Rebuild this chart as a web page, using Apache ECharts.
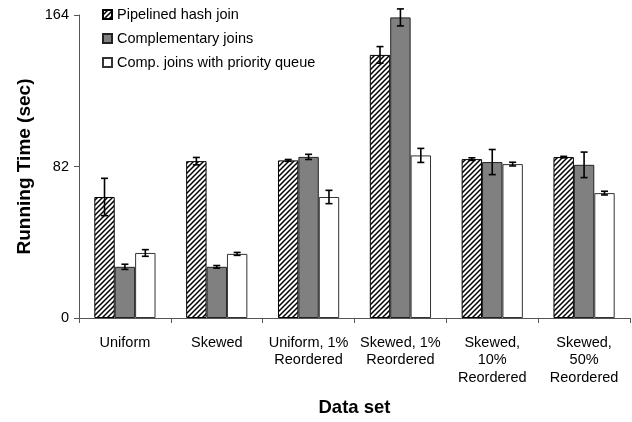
<!DOCTYPE html>
<html>
<head>
<meta charset="utf-8">
<script src="https://cdn.jsdelivr.net/npm/echarts@6/dist/echarts.min.js"></script>
<style>html,body{margin:0;padding:0;background:#fff}#c{width:632px;height:422px}</style>
</head>
<body>
<div id="c"></div>
<script>
const categories = ['Uniform', 'Skewed', 'Uniform, 1%\nReordered', 'Skewed, 1%\nReordered', 'Skewed,\n10%\nReordered', 'Skewed,\n50%\nReordered'];
const seriesNames = ['Pipelined hash join', 'Complementary joins', 'Comp. joins with priority queue'];
const pipelined = [65.5, 84.9, 85.3, 142.4, 86.0, 87.1];
const pipelinedErr = [10.1, 2.0, 0.5, 4.5, 0.7, 0.4];
const complementary = [27.7, 27.7, 87.2, 162.7, 84.4, 82.9];
const complementaryErr = [1.4, 0.7, 1.4, 4.6, 6.8, 6.9];
const priority = [35.2, 34.7, 65.5, 88.0, 83.3, 67.6];
const priorityErr = [1.8, 0.8, 3.6, 3.8, 1.0, 1.0];
const yTicks = [0, 82, 164];

const BAR_W = 20.4;

function hatch() {
  const s = 5;
  const c = document.createElement('canvas');
  c.width = s; c.height = s;
  const g = c.getContext('2d');
  g.fillStyle = '#fff'; g.fillRect(0, 0, s, s);
  g.strokeStyle = '#000'; g.lineWidth = 1.5;
  g.beginPath();
  g.moveTo(-1, s + 1); g.lineTo(s + 1, -1);
  g.moveTo(-1, 1); g.lineTo(1, -1);
  g.moveTo(s - 1, s + 1); g.lineTo(s + 1, s - 1);
  g.stroke();
  return c;
}
const hatchPattern = { image: hatch(), repeat: 'repeat' };

function errSeries(vals, errs, idx) {
  return {
    type: 'custom',
    z: 10,
    silent: true,
    data: vals.map((v, i) => [i, v, errs[i]]),
    renderItem: function (params, api) {
      const i = api.value(0), v = api.value(1), e = api.value(2);
      const off = (idx - 1) * BAR_W;
      const hi = api.coord([i, v + e]);
      const lo = api.coord([i, v - e]);
      const x = hi[0] + off;
      const cap = 3.5;
      const st = { stroke: '#000', lineWidth: 1.6 };
      return {
        type: 'group',
        children: [
          { type: 'line', shape: { x1: x, y1: hi[1], x2: x, y2: lo[1] }, style: st },
          { type: 'line', shape: { x1: x - cap, y1: hi[1], x2: x + cap, y2: hi[1] }, style: st },
          { type: 'line', shape: { x1: x - cap, y1: lo[1], x2: x + cap, y2: lo[1] }, style: st }
        ]
      };
    }
  };
}

const chart = echarts.init(document.getElementById('c'), null, { renderer: 'canvas' });
const font = '"Liberation Sans", Arial, sans-serif';
chart.setOption({
  animation: false,
  textStyle: { fontFamily: font },
  grid: { left: 79, right: 2, top: 15, bottom: 103.5, containLabel: false },
  legend: {
    orient: 'vertical',
    left: 97,
    top: 2,
    itemWidth: 9,
    itemHeight: 9,
    itemGap: 9,
    icon: 'rect',
    data: seriesNames,
    textStyle: { fontFamily: font, fontSize: 14.5, color: '#000', padding: [0, 0, 0, 0] }
  },
  xAxis: {
    type: 'category',
    data: categories,
    axisLine: { lineStyle: { color: '#555', width: 1 } },
    axisTick: { show: true, length: 5, interval: 0, lineStyle: { color: '#555' } },
    axisLabel: { interval: 0, fontSize: 14.5, color: '#000', lineHeight: 17.5, margin: 16, fontFamily: font },
    name: 'Data set',
    nameLocation: 'middle',
    nameGap: 80,
    nameTextStyle: { fontSize: 18.5, fontWeight: 'bold', color: '#000', fontFamily: font }
  },
  yAxis: {
    type: 'value',
    min: 0,
    max: 164,
    interval: 82,
    axisLine: { show: true, lineStyle: { color: '#555', width: 1 } },
    axisTick: { show: true, length: 5, lineStyle: { color: '#555' } },
    splitLine: { show: false },
    axisLabel: { fontSize: 14.5, color: '#000', margin: 10, fontFamily: font,
      formatter: v => yTicks.indexOf(v) >= 0 ? String(v) : '' },
    name: 'Running Time (sec)',
    nameLocation: 'middle',
    nameGap: 43,
    nameTextStyle: { fontSize: 19, fontWeight: 'bold', color: '#000', fontFamily: font }
  },
  series: [
    { name: seriesNames[0], type: 'bar', data: pipelined, barWidth: BAR_W, barGap: '0%',
      itemStyle: { color: hatchPattern, borderColor: '#000', borderWidth: 1 } },
    { name: seriesNames[1], type: 'bar', data: complementary, barWidth: BAR_W, barGap: '0%',
      itemStyle: { color: '#808080', borderColor: '#222', borderWidth: 1 } },
    { name: seriesNames[2], type: 'bar', data: priority, barWidth: BAR_W, barGap: '0%',
      itemStyle: { color: '#ffffff', borderColor: '#333', borderWidth: 1 } },
    errSeries(pipelined, pipelinedErr, 0),
    errSeries(complementary, complementaryErr, 1),
    errSeries(priority, priorityErr, 2)
  ]
});
</script>
</body>
</html>
